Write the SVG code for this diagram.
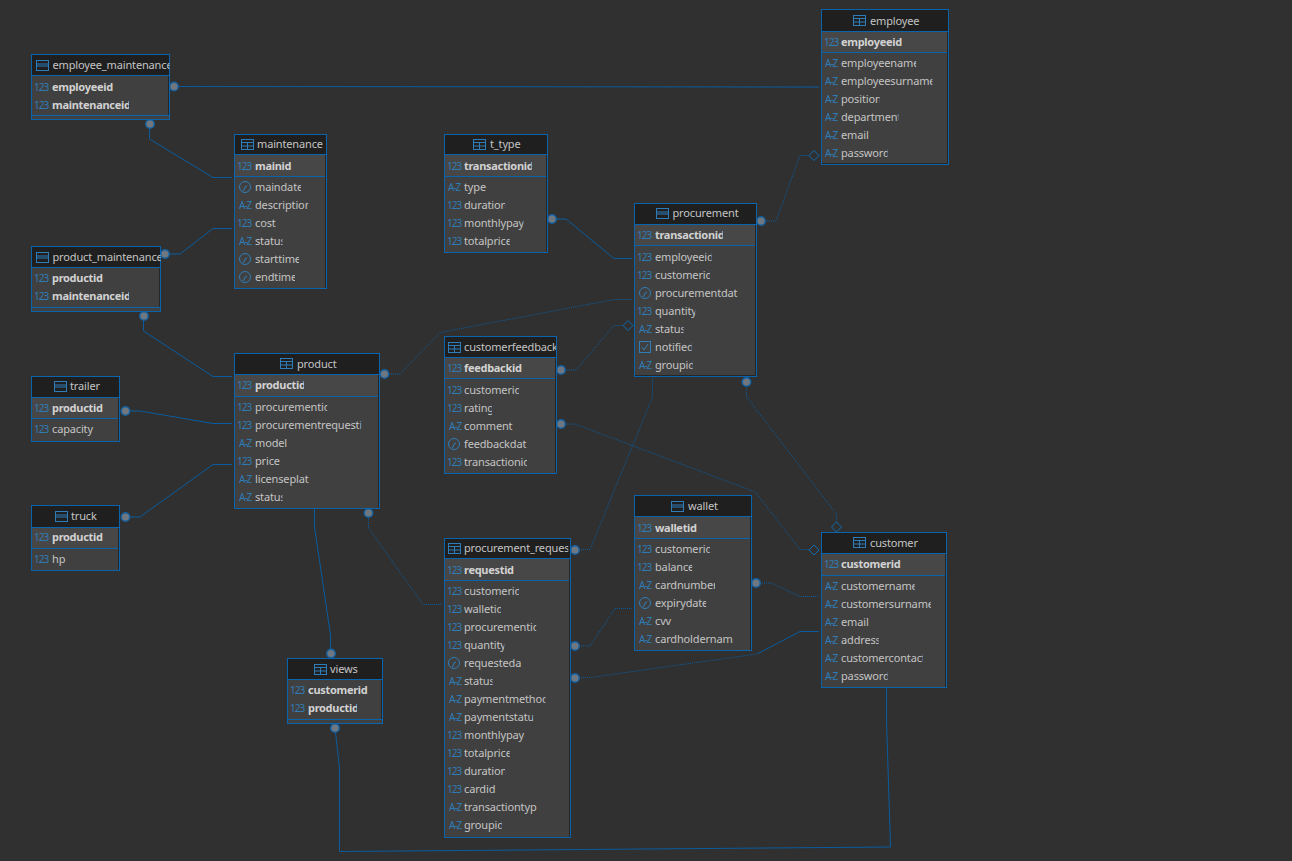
<svg xmlns="http://www.w3.org/2000/svg" xmlns:xlink="http://www.w3.org/1999/xlink" width="1292" height="861" viewBox="0 0 1292 861">
<style>
text{font-family:"Noto Sans","Open Sans","Liberation Sans",sans-serif;font-size:11px;letter-spacing:-.15px;fill:#c4c4c4}
.b{fill:#404040;stroke:#0a64ad}
.h{fill:#1f1f1f}
.k{fill:#474747}
.s{stroke:#0a64ad;fill:none}
.e{stroke:#262626;fill:none}
.p{font-weight:700;fill:#d2d2d2;letter-spacing:-.3px}
.i{font-size:10px;fill:#2f7db8;letter-spacing:-1px}
.c{stroke:#0a5c9e;fill:none}
.d{stroke:#0a5c9e;fill:none;stroke-dasharray:1 1}
.o{fill:#6f7780;stroke:#14609f;stroke-width:1.5}
.m{fill:#303030;stroke:#0f6cb0}
.g{fill:none;stroke:#2f7db8}
</style>
<defs>
<g id="tg" class="g"><rect x=".5" y=".5" width="12" height="10"/><path d="M0 3.500H13M0 7H13M6.500 3.500V11" stroke-width="1"/></g>
<g id="tv" class="g"><rect x=".5" y=".5" width="12" height="10"/><path d="M0 4H13M0 6H13"/></g>
<g id="cl" class="g"><circle cx="6" cy="0" r="5.500"/><path d="M6 0L4.500 4M6 0L8 -1"/></g>
<g id="ck" class="g"><rect x=".5" y="-5.500" width="11" height="11"/><path d="M3 0L5 3L9 -3"/></g>
<circle id="dot" class="o" r="4.300"/>
<polygon id="dia" class="m" points="0,-5 5,0 0,5 -5,0"/>
</defs>
<rect width="1292" height="861" fill="#303030"/>
<g id="connectors">
<path class="c" d="M174 86.500L819 87"/>
<path class="c" d="M149.500 124V139L213 177.500H232"/>
<path class="c" d="M165 254H180L213 228.500H232"/>
<path class="c" d="M143.500 316V331L213 376.500H232"/>
<path class="c" d="M125 411H140L213 423.500H232"/>
<path class="c" d="M125 517H140L213 464.500H232"/>
<path class="c" d="M314.500 509V527L330.500 635V653"/>
<path class="d" d="M385 374H400L440 332.500L614 299.500H632"/>
<path class="d" d="M368.500 513V528L423 604.500H442"/>
<path class="c" d="M552 219H566L614 258.500H632"/>
<path class="d" d="M761 221H776L800 155.500H809"/>
<path class="d" d="M561 370H576L614 325.500H623"/>
<path class="d" d="M561 424H575L755.500 492L800 549.500H809"/>
<path class="d" d="M746.500 382V397L836.500 514V522"/>
<path class="d" d="M575 549.500H590L652.500 397V378"/>
<path class="d" d="M575 646H590L615 608.500H632"/>
<path class="d" d="M575 678L590 677.500L757 654"/>
<path class="c" d="M757 654L800 631.500H819"/>
<path class="d" d="M756 583H771L800 596.500H819"/>
<path class="c" d="M886.500 688V720L890.500 847L339.500 851.500V768L335 728"/>
<use href="#dot" x="174" y="86.500"/><use href="#dot" x="150" y="124"/><use href="#dot" x="165" y="254"/><use href="#dot" x="144" y="316"/><use href="#dot" x="125.500" y="411"/><use href="#dot" x="125.500" y="517"/><use href="#dot" x="331" y="653.500"/><use href="#dot" x="384.500" y="374"/><use href="#dot" x="368.500" y="513"/><use href="#dot" x="552" y="219"/><use href="#dot" x="761" y="221"/><use href="#dot" x="561" y="370"/><use href="#dot" x="561" y="424"/><use href="#dot" x="746.500" y="382"/><use href="#dot" x="575" y="550"/><use href="#dot" x="575" y="646"/><use href="#dot" x="575" y="678"/><use href="#dot" x="756" y="583"/><use href="#dot" x="335" y="728"/>
<use href="#dia" x="814" y="155.500"/><use href="#dia" x="628" y="325.500"/><use href="#dia" x="814" y="550"/><use href="#dia" x="836.500" y="527"/>
</g>
<g id="employee_maintenance">
<rect class="b" x="31.500" y="54.500" width="138" height="65"/><rect class="h" x="32" y="55" width="137" height="21"/>
<path class="s" d="M32 75.500H169M32 115.500H169"/><path class="e" d="M168.500 76V115"/>
<use href="#tv" x="36" y="60"/><text x="52.500" y="69" style="clip-path:inset(0 3px 0 0)">employee_maintenance</text>
<text class="i" x="34" y="91">123</text><text class="p" x="52" y="91">employeeid</text>
<text class="i" x="34" y="109">123</text><text class="p" x="52" y="109" style="clip-path:inset(0 2px 0 0)">maintenanceid</text>
</g>
<g id="maintenance">
<rect class="b" x="234.500" y="134.500" width="92" height="154"/><rect class="h" x="235" y="135" width="91" height="20"/><rect class="k" x="235" y="155" width="91" height="21"/>
<path class="s" d="M235 154.500H326M235 176.500H326"/><path class="e" d="M325.500 155V288"/>
<use href="#tg" x="241" y="139"/><text x="257" y="148">maintenance</text>
<text class="i" x="237" y="170">123</text><text class="p" x="255" y="170">mainid</text>
<use href="#cl" x="239" y="187"/><text x="255" y="191" style="clip-path:inset(0 2px 0 0)">maindate</text>
<text class="i" x="239" y="209">A-Z</text><text x="255" y="209" style="clip-path:inset(0 3px 0 0)">description</text>
<text class="i" x="237" y="227">123</text><text x="255" y="227">cost</text>
<text class="i" x="239" y="245">A-Z</text><text x="255" y="245" style="clip-path:inset(0 3px 0 0)">status</text>
<use href="#cl" x="239" y="259"/><text x="255" y="263" style="clip-path:inset(0 2px 0 0)">starttime</text>
<use href="#cl" x="239" y="277"/><text x="255" y="281" style="clip-path:inset(0 2px 0 0)">endtime</text>
</g>
<g id="product_maintenance">
<rect class="b" x="31.500" y="246.500" width="129" height="65"/><rect class="h" x="32" y="247" width="128" height="20"/>
<path class="s" d="M32 267.500H160M32 307.500H160"/><path class="e" d="M159.500 268V307"/>
<use href="#tv" x="36" y="252"/><text x="52.500" y="261" style="clip-path:inset(0 2px 0 0)">product_maintenance</text>
<text class="i" x="34" y="282">123</text><text class="p" x="52" y="282">productid</text>
<text class="i" x="34" y="300">123</text><text class="p" x="52" y="300" style="clip-path:inset(0 2px 0 0)">maintenanceid</text>
</g>
<g id="trailer">
<rect class="b" x="31.500" y="376.500" width="88" height="65"/><rect class="h" x="32" y="377" width="87" height="20"/><rect class="k" x="32" y="397" width="87" height="21"/>
<path class="s" d="M32 397.500H119M32 418.500H119"/><path class="e" d="M118.500 398V441"/>
<use href="#tv" x="54" y="381"/><text x="70" y="390">trailer</text>
<text class="i" x="34" y="412">123</text><text class="p" x="52" y="412">productid</text>
<text class="i" x="34" y="433">123</text><text x="52" y="433">capacity</text>
</g>
<g id="truck">
<rect class="b" x="31.500" y="505.500" width="88" height="65"/><rect class="h" x="32" y="506" width="87" height="21"/><rect class="k" x="32" y="527" width="87" height="21"/>
<path class="s" d="M32 527.500H119M32 548.500H119"/><path class="e" d="M118.500 528V570"/>
<use href="#tv" x="55" y="511"/><text x="71" y="520">truck</text>
<text class="i" x="34" y="541">123</text><text class="p" x="52" y="541">productid</text>
<text class="i" x="34" y="563">123</text><text x="52" y="563">hp</text>
</g>
<g id="product">
<rect class="b" x="234.500" y="353.500" width="145" height="155"/><rect class="h" x="235" y="354" width="144" height="20"/><rect class="k" x="235" y="374" width="144" height="22"/>
<path class="s" d="M235 374.500H379M235 396.500H379"/><path class="e" d="M378.500 375V508"/>
<use href="#tg" x="280" y="358"/><text x="297" y="368">product</text>
<text class="i" x="237" y="389">123</text><text class="p" x="255" y="389" style="clip-path:inset(0 2px 0 0)">productid</text>
<text class="i" x="237" y="411">123</text><text x="255" y="411" style="clip-path:inset(0 3px 0 0)">procurementid</text>
<text class="i" x="237" y="429">123</text><text x="255" y="429" style="clip-path:inset(0 1px 0 0)">procurementrequesti</text>
<text class="i" x="239" y="447">A-Z</text><text x="255" y="447">model</text>
<text class="i" x="237" y="465">123</text><text x="255" y="465">price</text>
<text class="i" x="239" y="483">A-Z</text><text x="255" y="483">licenseplat</text>
<text class="i" x="239" y="501">A-Z</text><text x="255" y="501" style="clip-path:inset(0 3px 0 0)">status</text>
</g>
<g id="t_type">
<rect class="b" x="444.500" y="134.500" width="103" height="118"/><rect class="h" x="445" y="135" width="102" height="19"/><rect class="k" x="445" y="154" width="102" height="22"/>
<path class="s" d="M445 154.500H547M445 176.500H547"/><path class="e" d="M546.500 155V252"/>
<use href="#tg" x="473" y="139"/><text x="490" y="148">t_type</text>
<text class="i" x="447" y="170">123</text><text class="p" x="464" y="170" style="clip-path:inset(0 2px 0 0)">transactionid</text>
<text class="i" x="448" y="191">A-Z</text><text x="464" y="191">type</text>
<text class="i" x="447" y="209">123</text><text x="464" y="209" style="clip-path:inset(0 2px 0 0)">duration</text>
<text class="i" x="447" y="227">123</text><text x="464" y="227" style="clip-path:inset(0 1px 0 0)">monthlypay</text>
<text class="i" x="447" y="245">123</text><text x="464" y="245" style="clip-path:inset(0 2px 0 0)">totalprice</text>
</g>
<g id="procurement">
<rect class="b" x="634.500" y="203.500" width="122" height="173"/><rect class="h" x="635" y="204" width="121" height="20"/><rect class="k" x="635" y="224" width="121" height="21"/>
<path class="s" d="M635 224.500H756M635 245.500H756"/><path class="e" d="M755.500 225V375.500H635"/>
<use href="#tv" x="656" y="208"/><text x="672.500" y="217">procurement</text>
<text class="i" x="637" y="239">123</text><text class="p" x="655" y="239" style="clip-path:inset(0 2px 0 0)">transactionid</text>
<text class="i" x="637" y="261">123</text><text x="655" y="261" style="clip-path:inset(0 2px 0 0)">employeeid</text>
<text class="i" x="637" y="279">123</text><text x="655" y="279" style="clip-path:inset(0 2px 0 0)">customerid</text>
<use href="#cl" x="639" y="293"/><text x="655" y="297">procurementdat</text>
<text class="i" x="637" y="315">123</text><text x="655" y="315" style="clip-path:inset(0 2px 0 0)">quantity</text>
<text class="i" x="639" y="333">A-Z</text><text x="655" y="333" style="clip-path:inset(0 2px 0 0)">status</text>
<use href="#ck" x="639" y="347"/><text x="655" y="351" style="clip-path:inset(0 2px 0 0)">notified</text>
<text class="i" x="639" y="369">A-Z</text><text x="655" y="369" style="clip-path:inset(0 2px 0 0)">groupid</text>
</g>
<g id="customerfeedback">
<rect class="b" x="444.500" y="336.500" width="112" height="137"/><rect class="h" x="445" y="337" width="111" height="20"/><rect class="k" x="445" y="357" width="111" height="21"/>
<path class="s" d="M445 357.500H556M445 378.500H556"/><path class="e" d="M555.500 358V473"/>
<use href="#tg" x="448" y="342"/><text x="464" y="351" style="clip-path:inset(0 2px 0 0)">customerfeedback</text>
<text class="i" x="447" y="372">123</text><text class="p" x="464" y="372">feedbackid</text>
<text class="i" x="447" y="394">123</text><text x="464" y="394" style="clip-path:inset(0 2px 0 0)">customerid</text>
<text class="i" x="447" y="412">123</text><text x="464" y="412" style="clip-path:inset(0 2px 0 0)">rating</text>
<text class="i" x="449" y="430">A-Z</text><text x="464" y="430">comment</text>
<use href="#cl" x="448" y="444"/><text x="464" y="448">feedbackdat</text>
<text class="i" x="447" y="466">123</text><text x="464" y="466" style="clip-path:inset(0 3px 0 0)">transactionid</text>
</g>
<g id="procurement_request">
<rect class="b" x="444.500" y="538.500" width="126" height="299"/><rect class="h" x="445" y="539" width="125" height="19"/><rect class="k" x="445" y="558" width="125" height="22"/>
<path class="s" d="M445 558.500H570M445 580.500H570"/><path class="e" d="M569.500 559V837"/>
<use href="#tg" x="448" y="543"/><text x="464" y="552" style="clip-path:inset(0 5px 0 0)">procurement_request</text>
<text class="i" x="447" y="574">123</text><text class="p" x="464" y="574">requestid</text>
<text class="i" x="447" y="595">123</text><text x="464" y="595" style="clip-path:inset(0 2px 0 0)">customerid</text>
<text class="i" x="447" y="613">123</text><text x="464" y="613" style="clip-path:inset(0 2px 0 0)">walletid</text>
<text class="i" x="447" y="631">123</text><text x="464" y="631" style="clip-path:inset(0 3px 0 0)">procurementid</text>
<text class="i" x="447" y="649">123</text><text x="464" y="649" style="clip-path:inset(0 2px 0 0)">quantity</text>
<use href="#cl" x="448" y="663"/><text x="464" y="667">requesteda</text>
<text class="i" x="449" y="685">A-Z</text><text x="464" y="685" style="clip-path:inset(0 2px 0 0)">status</text>
<text class="i" x="449" y="703">A-Z</text><text x="464" y="703" style="clip-path:inset(0 3px 0 0)">paymentmethod</text>
<text class="i" x="449" y="721">A-Z</text><text x="464" y="721" style="clip-path:inset(0 1px 0 0)">paymentstatu</text>
<text class="i" x="447" y="739">123</text><text x="464" y="739">monthlypay</text>
<text class="i" x="447" y="757">123</text><text x="464" y="757" style="clip-path:inset(0 2px 0 0)">totalprice</text>
<text class="i" x="447" y="775">123</text><text x="464" y="775" style="clip-path:inset(0 2px 0 0)">duration</text>
<text class="i" x="447" y="793">123</text><text x="464" y="793">cardid</text>
<text class="i" x="449" y="811">A-Z</text><text x="464" y="811">transactiontyp</text>
<text class="i" x="449" y="829">A-Z</text><text x="464" y="829" style="clip-path:inset(0 2px 0 0)">groupid</text>
</g>
<g id="wallet">
<rect class="b" x="634.500" y="495.500" width="117" height="155"/><rect class="h" x="635" y="496" width="116" height="20"/><rect class="k" x="635" y="516" width="116" height="22"/>
<path class="s" d="M635 516.500H751M635 538.500H751"/><path class="e" d="M750.500 517V650"/>
<use href="#tv" x="671" y="501"/><text x="688" y="510">wallet</text>
<text class="i" x="637" y="532">123</text><text class="p" x="655" y="532">walletid</text>
<text class="i" x="637" y="553">123</text><text x="655" y="553" style="clip-path:inset(0 2px 0 0)">customerid</text>
<text class="i" x="637" y="571">123</text><text x="655" y="571" style="clip-path:inset(0 2px 0 0)">balance</text>
<text class="i" x="639" y="589">A-Z</text><text x="655" y="589" style="clip-path:inset(0 3px 0 0)">cardnumber</text>
<use href="#cl" x="639" y="603"/><text x="655" y="607" style="clip-path:inset(0 2px 0 0)">expirydate</text>
<text class="i" x="639" y="625">A-Z</text><text x="655" y="625">cvv</text>
<text class="i" x="639" y="643">A-Z</text><text x="655" y="643">cardholdernam</text>
</g>
<g id="customer">
<rect class="b" x="821.500" y="532.500" width="125" height="155"/><rect class="h" x="822" y="533" width="124" height="20"/><rect class="k" x="822" y="553" width="124" height="22"/>
<path class="s" d="M822 553.500H946M822 575.500H946"/><path class="e" d="M945.500 554V687"/>
<use href="#tg" x="853" y="537"/><text x="870" y="547">customer</text>
<text class="i" x="824" y="568">123</text><text class="p" x="841" y="568">customerid</text>
<text class="i" x="825" y="590">A-Z</text><text x="841" y="590" style="clip-path:inset(0 3px 0 0)">customername</text>
<text class="i" x="825" y="608">A-Z</text><text x="841" y="608" style="clip-path:inset(0 3px 0 0)">customersurname</text>
<text class="i" x="825" y="626">A-Z</text><text x="841" y="626">email</text>
<text class="i" x="825" y="644">A-Z</text><text x="841" y="644" style="clip-path:inset(0 2px 0 0)">address</text>
<text class="i" x="825" y="662">A-Z</text><text x="841" y="662" style="clip-path:inset(0 3px 0 0)">customercontact</text>
<text class="i" x="825" y="680">A-Z</text><text x="841" y="680" style="clip-path:inset(0 2px 0 0)">password</text>
</g>
<g id="employee">
<rect class="b" x="821.500" y="9.500" width="127" height="155"/><rect class="h" x="822" y="10" width="126" height="21"/><rect class="k" x="822" y="31" width="126" height="21"/>
<path class="s" d="M822 31.500H948M822 52.500H948"/><path class="e" d="M947.500 32V163.500H822"/>
<use href="#tg" x="853" y="15"/><text x="870" y="25">employee</text>
<text class="i" x="824" y="46">123</text><text class="p" x="841" y="46">employeeid</text>
<text class="i" x="825" y="67">A-Z</text><text x="841" y="67" style="clip-path:inset(0 3px 0 0)">employeename</text>
<text class="i" x="825" y="85">A-Z</text><text x="841" y="85" style="clip-path:inset(0 3px 0 0)">employeesurname</text>
<text class="i" x="825" y="103">A-Z</text><text x="841" y="103" style="clip-path:inset(0 2px 0 0)">position</text>
<text class="i" x="825" y="121">A-Z</text><text x="841" y="121" style="clip-path:inset(0 3px 0 0)">department</text>
<text class="i" x="825" y="139">A-Z</text><text x="841" y="139">email</text>
<text class="i" x="825" y="157">A-Z</text><text x="841" y="157" style="clip-path:inset(0 2px 0 0)">password</text>
</g>
<g id="views">
<rect class="b" x="287.500" y="658.500" width="95" height="65"/><rect class="h" x="288" y="659" width="94" height="20"/>
<path class="s" d="M288 679.500H382M288 719.500H382"/><path class="e" d="M381.500 680V719"/>
<use href="#tg" x="314" y="664"/><text x="330" y="673">views</text>
<text class="i" x="290" y="694">123</text><text class="p" x="308" y="694">customerid</text>
<text class="i" x="290" y="712">123</text><text class="p" x="308" y="712" style="clip-path:inset(0 2px 0 0)">productid</text>
</g>
</svg>
